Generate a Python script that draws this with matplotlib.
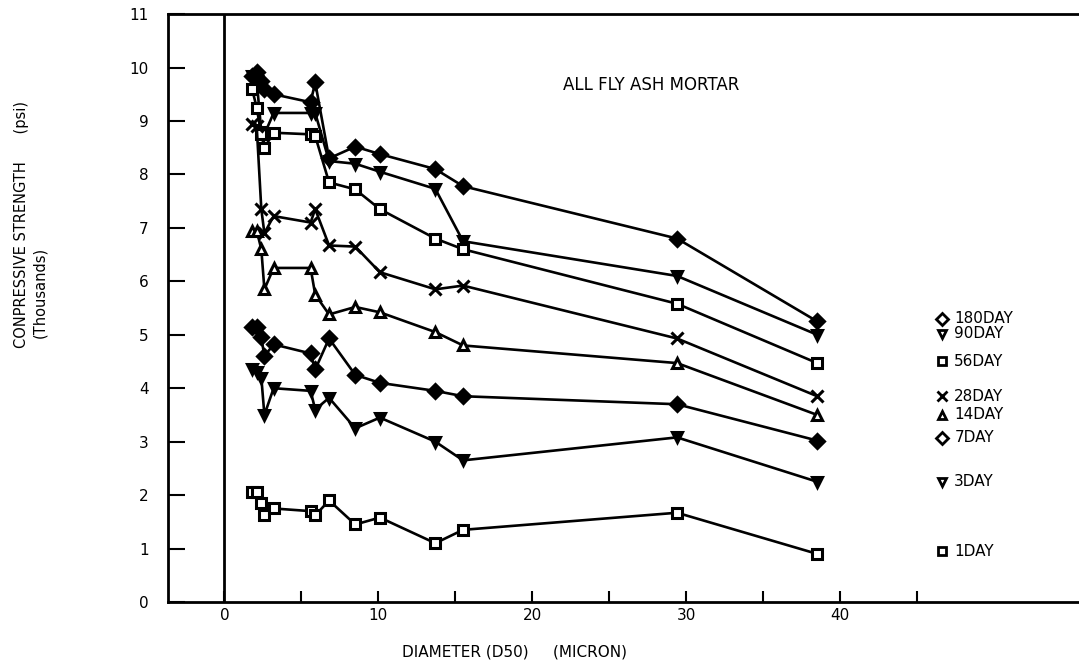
import numpy as np
import matplotlib.pyplot as plt

# D50 particle diameter (micron)
diameter = [1.8, 2.1, 2.4, 2.6, 3.2, 5.6, 5.9, 6.8, 8.5, 10.1, 13.7, 15.5, 29.4, 38.5]

# compressive strength (thousands psi)
day1 = [2.05, 2.05, 1.85, 1.62, 1.75, 1.70, 1.62, 1.90, 1.45, 1.58, 1.10, 1.35, 1.67, 0.90]
day3 = [4.35, 4.30, 4.20, 3.50, 4.00, 3.95, 3.60, 3.82, 3.25, 3.45, 3.00, 2.65, 3.08, 2.25]
day7 = [5.15, 5.15, 4.95, 4.60, 4.82, 4.65, 4.35, 4.93, 4.25, 4.10, 3.95, 3.85, 3.70, 3.02]
day14 = [6.95, 6.95, 6.60, 5.85, 6.25, 6.25, 5.75, 5.38, 5.52, 5.42, 5.05, 4.80, 4.47, 3.50]
day28 = [8.95, 8.90, 7.35, 6.90, 7.22, 7.10, 7.35, 6.67, 6.65, 6.17, 5.85, 5.92, 4.93, 3.85]
day56 = [9.60, 9.25, 8.75, 8.50, 8.78, 8.75, 8.72, 7.85, 7.72, 7.35, 6.80, 6.60, 5.58, 4.47]
day90 = [9.85, 9.75, 8.80, 8.75, 9.15, 9.15, 9.15, 8.25, 8.20, 8.05, 7.73, 6.75, 6.10, 5.00]
day180 = [9.85, 9.92, 9.75, 9.60, 9.50, 9.35, 9.72, 8.30, 8.52, 8.38, 8.10, 7.78, 6.80, 5.25]

# name, values, marker, filled, label y position
series = [
    ("180DAY", day180, "D", True, 5.30),
    ("90DAY", day90, "v", True, 5.02),
    ("56DAY", day56, "s", False, 4.50),
    ("28DAY", day28, "x", False, 3.85),
    ("14DAY", day14, "^", False, 3.50),
    ("7DAY", day7, "D", True, 3.07),
    ("3DAY", day3, "v", True, 2.25),
    ("1DAY", day1, "s", False, 0.95),
]

fig = plt.figure(figsize=(10.79, 6.70), dpi=100)
ax = fig.add_axes([0.1557, 0.1015, 0.85, 0.8775])

for name, vals, mk, filled, ly in series:
    ax.plot(diameter, vals, "-", color="black", lw=1.9,
            marker=mk, ms=7 if mk != "x" else 9,
            mfc="black" if filled else "white", mec="black", mew=2.2)
    # label marker + text at the right end
    ax.plot([46.6], [ly], marker=mk, ms=6 if mk != "x" else 7, mfc="white",
            mec="black", mew=2, color="black", clip_on=False)
    ax.text(47.4, ly, name, fontsize=11, va="center", ha="left")

ax.axvline(0, color="black", lw=2)

ax.set_xlim(-3.66, 55.9)
ax.set_ylim(0, 11)
ax.set_xticks(np.arange(0, 50, 5))
ax.set_xticklabels(["0", "", "10", "", "20", "", "30", "", "40", ""])
ax.set_yticks(np.arange(0, 12, 1))
ax.tick_params(axis="x", direction="in", length=8, width=1.5, labelsize=11, pad=4)
ax.tick_params(axis="y", direction="in", length=12, width=1.5, labelsize=11, pad=14)
for s in ["left", "bottom", "top"]:
    ax.spines[s].set_linewidth(2)
ax.spines["right"].set_visible(False)

ax.text(22.0, 9.67, "ALL FLY ASH MORTAR", fontsize=12, va="center", ha="left")

fig.text(515 / 1079, 1 - 652 / 670, "DIAMETER (D50)     (MICRON)",
         fontsize=11, ha="center", va="center")
fig.text(22 / 1079, 1 - 225 / 670, "CONPRESSIVE STRENGTH      (psi)",
         fontsize=10.5, rotation=90, ha="center", va="center")
fig.text(40 / 1079, 1 - 292 / 670, "(Thousands)",
         fontsize=10.5, rotation=90, ha="center", va="center")

fig.savefig("out.png", dpi=100)
